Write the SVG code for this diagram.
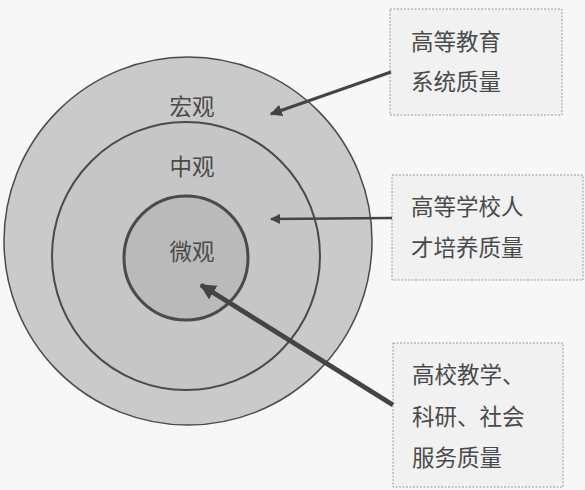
<svg xmlns="http://www.w3.org/2000/svg" width="585" height="490" viewBox="0 0 585 490">
<style>
.ring{stroke:#4a4a4a;}
.lbl{font-family:"Liberation Sans","Noto Sans CJK SC",sans-serif;font-size:22.5px;fill:#4a4a4a;}
.box{fill:#f1f1f1;stroke:#9a9a9a;stroke-width:1;stroke-dasharray:2 1.5;}
.conn{stroke:#444;fill:none;}
</style>
<defs>
<marker id="ah" viewBox="0 0 10 10" refX="9" refY="5" markerWidth="4" markerHeight="4" orient="auto" markerUnits="strokeWidth">
<path d="M0,0 L10,5 L0,10 Z" fill="#444"/>
</marker>
<marker id="ah2" viewBox="0 0 10 10" refX="9" refY="5" markerWidth="3.2" markerHeight="3.2" orient="auto" markerUnits="strokeWidth">
<path d="M0,0 L10,5 L0,10 Z" fill="#444"/>
</marker>
</defs>
<rect width="585" height="490" fill="#f7f7f7"/>
<g id="macro">
<circle class="ring" cx="188" cy="241" r="184" fill="#cacaca" stroke-width="1.5"/>
<text class="lbl" x="192" y="115" text-anchor="middle">宏观</text>
</g>
<g id="meso">
<circle class="ring" cx="186" cy="256" r="134" fill="#c6c6c6" stroke-width="2"/>
<text class="lbl" x="192" y="175" text-anchor="middle">中观</text>
</g>
<g id="micro">
<circle class="ring" cx="186" cy="258" r="62" fill="#bababa" stroke-width="3"/>
<text class="lbl" x="192" y="260" text-anchor="middle">微观</text>
</g>
<g id="box1">
<rect class="box" x="390" y="9" width="172" height="106"/>
<text class="lbl" x="411" y="50">高等教育</text>
<text class="lbl" x="411" y="90">系统质量</text>
</g>
<g id="box2">
<rect class="box" x="392" y="175" width="191" height="105"/>
<text class="lbl" x="411" y="215">高等学校人</text>
<text class="lbl" x="411" y="256">才培养质量</text>
</g>
<g id="box3">
<rect class="box" x="393" y="343" width="170" height="144"/>
<text class="lbl" x="412" y="383">高校教学、</text>
<text class="lbl" x="412" y="425">科研、社会</text>
<text class="lbl" x="412" y="466">服务质量</text>
</g>
<g id="connectors">
<line class="conn" x1="391" y1="72" x2="271" y2="114" stroke-width="3" marker-end="url(#ah)"/>
<line class="conn" x1="392" y1="218" x2="271" y2="219" stroke-width="2.5" marker-end="url(#ah)"/>
<line class="conn" x1="393" y1="405" x2="201" y2="285" stroke-width="5" marker-end="url(#ah2)"/>
</g>
</svg>
